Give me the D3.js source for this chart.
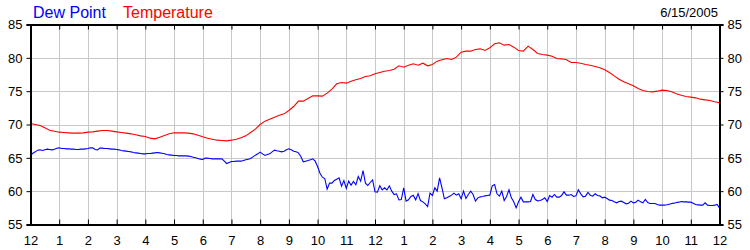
<!DOCTYPE html>
<html lang="en">

<head>
  <meta charset="UTF-8">
  <title>Dew Point / Temperature</title>
  <style>
    * {
      margin: 0;
    }

    body {
      background: #fff;
      font-family: "Liberation Sans", Arial, sans-serif;
    }

    .axis text {
      font-size: 13px;
      fill: #000;
    }
  </style>
</head>

<body>
  <div id="chart"></div>
  <script src="https://cdnjs.cloudflare.com/ajax/libs/d3/7.8.5/d3.min.js"></script>
  <script type="text/javascript">
    // temperature: one reading every 10 minutes, midnight to midnight
    const temperature = [
      70.15, 70.0, 69.85, 69.5, 69.15, 69.0, 68.85, 68.8, 68.75, 68.7,
      68.7, 68.75, 68.85, 68.9, 69.0, 69.1, 69.1, 69.0, 68.9, 68.8,
      68.7, 68.6, 68.45, 68.3, 68.2, 67.95, 67.85, 68.1, 68.35, 68.6,
      68.75, 68.75, 68.75, 68.7, 68.6, 68.4, 68.15, 67.95, 67.8, 67.65,
      67.6, 67.55, 67.65, 67.8, 68.0, 68.3, 68.8, 69.3, 70.0, 70.5,
      70.8, 71.1, 71.4, 71.6, 72.1, 72.7, 73.5, 73.5, 73.9, 74.3,
      74.3, 74.25, 74.7, 75.3, 76.1, 76.3, 76.2, 76.5, 76.7, 76.9,
      77.2, 77.3, 77.6, 77.8, 78.0, 78.1, 78.3, 78.8, 78.6, 78.9,
      79.1, 78.9, 79.2, 78.8, 79.0, 79.5, 79.7, 79.9, 79.75, 80.1,
      80.85, 81.0, 81.0, 81.25, 81.35, 81.1, 81.5, 82.1, 82.25, 81.9,
      82.0, 81.6, 81.1, 81.0, 81.75, 81.25, 80.65, 80.5, 80.4, 80.25,
      79.9, 79.85, 79.7, 79.3, 79.3, 79.2, 79.0, 78.9, 78.7, 78.5,
      78.2, 77.8, 77.3, 76.8, 76.4, 76.1, 75.8, 75.4, 75.1, 74.95,
      74.9, 75.0, 75.15, 75.1, 74.9, 74.6, 74.4, 74.2, 74.1, 74.0,
      73.8, 73.7, 73.6, 73.4, 73.25
    ];

    // dew point: one reading every 5 minutes, midnight to midnight
    const dewPoint = [
      65.35, 65.7, 65.9, 66.15, 66.2, 66.1, 66.2, 66.3, 66.25, 66.2,
      66.3, 66.45, 66.5, 66.4, 66.4, 66.35, 66.35, 66.3, 66.3, 66.25,
      66.25, 66.3, 66.3, 66.35, 66.4, 66.5, 66.5, 66.25, 66.2, 66.45,
      66.45, 66.4, 66.4, 66.35, 66.3, 66.3, 66.25, 66.2, 66.1, 66.05,
      66.0, 65.95, 65.9, 65.8, 65.75, 65.7, 65.65, 65.6, 65.6, 65.65,
      65.65, 65.7, 65.75, 65.8, 65.75, 65.7, 65.6, 65.5, 65.45, 65.4,
      65.35, 65.35, 65.3, 65.3, 65.3, 65.3, 65.25, 65.2, 65.1, 65.0,
      64.9, 64.8, 64.75, 64.95, 64.95, 64.9, 64.85, 64.85, 64.85, 64.85,
      64.85, 64.5, 64.15, 64.3, 64.45, 64.45, 64.5, 64.5, 64.5, 64.6,
      64.7, 64.8, 64.9, 65.15, 65.4, 65.6, 65.85, 65.6, 65.35, 65.5,
      65.6, 65.9, 66.15, 66.05, 66.0, 65.9, 66.0, 66.2, 66.35, 66.2,
      66.0, 65.9, 65.75, 65.2, 64.4, 64.5, 64.6, 64.7, 64.85, 64.5,
      63.7, 62.7, 62.1, 61.9, 60.3, 61.2, 61.2, 61.6, 61.8, 62.0,
      60.75, 61.6, 60.4, 61.5, 60.9, 61.45, 60.95, 62.2, 61.5, 63.1,
      61.2, 60.85, 61.3, 61.7, 59.9, 59.85, 60.8, 60.2, 60.5, 60.2,
      60.8, 60.0, 59.5, 59.6, 58.7, 58.75, 60.5, 58.5, 58.7, 59.2,
      59.4, 58.7, 59.65, 58.6, 58.4, 58.1, 57.7, 59.7, 59.35, 60.5,
      60.0, 62.0, 60.5, 58.85, 59.0, 59.2, 59.4, 59.7, 59.4, 59.6,
      58.85, 60.0, 58.9, 59.5, 60.0, 59.5, 58.5, 59.0, 59.15, 59.2,
      59.3, 59.35, 59.4, 60.8, 61.0, 59.6, 59.25, 60.0, 58.6, 59.2,
      60.2, 59.0, 58.4, 57.5, 58.4, 59.1, 58.4, 58.4, 58.4, 58.45,
      59.5, 58.75, 58.55, 58.6, 58.75, 59.0, 58.45, 59.35, 59.1, 59.5,
      59.1, 59.1, 59.35, 59.9, 59.4, 59.4, 59.5, 59.2, 59.3, 60.2,
      59.6, 59.15, 59.25, 59.8, 59.4, 59.25, 59.6, 59.35, 59.3, 59.0,
      59.1, 58.9, 58.65, 58.6, 58.4, 58.25, 58.45, 58.5, 58.3, 58.1,
      58.2, 58.5, 58.25, 58.35, 58.65, 58.4, 58.25, 58.75, 58.3, 58.15,
      58.15, 58.15, 58.0, 57.9, 57.9, 57.9, 57.95, 58.05, 58.15, 58.2,
      58.3, 58.35, 58.45, 58.4, 58.4, 58.35, 58.35, 58.2, 58.0, 57.95,
      57.9, 57.9, 58.25, 57.9, 57.85, 57.85, 57.9, 58.0, 57.5
    ];

    const hourLabels = ['12', '1', '2', '3', '4', '5', '6', '7', '8', '9', '10', '11',
      '12', '1', '2', '3', '4', '5', '6', '7', '8', '9', '10', '11', '12'];
    const yTicks = [55, 60, 65, 70, 75, 80, 85];
    const dateLabel = '6/15/2005';

    const width = 750, height = 250;
    const plotLeft = 30.5, plotRight = 719.5, plotTop = 24.5, plotBottom = 224.5;

    const svg = d3.select('#chart')
      .append('svg')
      .attr('width', width)
      .attr('height', height);

    const x = d3.scaleLinear().domain([0, 24]).range([plotLeft, plotRight]);
    const y = d3.scaleLinear().domain([55, 85]).range([plotBottom, plotTop]);
    const hours = d3.range(hourLabels.length);

    // grid
    svg.append('g')
      .selectAll('line')
      .data(hours.slice(1, -1))
      .enter().append('line')
      .attr('x1', d => Math.round(x(d)) + 0.5)
      .attr('x2', d => Math.round(x(d)) + 0.5)
      .attr('y1', plotTop)
      .attr('y2', plotBottom)
      .attr('stroke', '#c8c8c8');
    svg.append('g')
      .selectAll('line')
      .data(yTicks.slice(1, -1))
      .enter().append('line')
      .attr('x1', plotLeft)
      .attr('x2', plotRight)
      .attr('y1', d => Math.round(y(d)) + 0.5)
      .attr('y2', d => Math.round(y(d)) + 0.5)
      .attr('stroke', '#c8c8c8');

    // series, spread evenly over the 24 hours
    function drawSeries(values, color) {
      const step = 24 / (values.length - 1);
      const line = d3.line()
        .x((d, i) => x(i * step))
        .y(d => y(d));
      svg.append('path')
        .datum(values)
        .attr('d', line)
        .attr('fill', 'none')
        .attr('stroke', color)
        .attr('stroke-width', 1.1);
    }

    drawSeries(dewPoint, '#0000ff');
    drawSeries(temperature, '#ff0000');

    // axes
    const hourFormat = i => hourLabels[i];

    svg.append('g')
      .attr('class', 'axis')
      .attr('transform', `translate(0,${plotBottom})`)
      .call(d3.axisBottom(x).tickValues(hours).tickFormat(hourFormat).tickSize(-5).tickPadding(10))
      .call(g => g.selectAll('text').attr('dy', '0.8em'));

    svg.append('g')
      .attr('class', 'axis')
      .attr('transform', `translate(0,${plotTop})`)
      .call(d3.axisTop(x).tickValues(hours).tickFormat('').tickSize(-5));

    svg.append('g')
      .attr('class', 'axis')
      .attr('transform', `translate(${plotLeft},0)`)
      .call(d3.axisLeft(y).tickValues(yTicks).tickSize(4).tickPadding(4));

    svg.append('g')
      .attr('class', 'axis')
      .attr('transform', `translate(${plotRight},0)`)
      .call(d3.axisRight(y).tickValues(yTicks).tickSize(4).tickPadding(4));

    svg.selectAll('.axis .domain, .axis line')
      .attr('stroke', '#000');
    svg.selectAll('.axis .domain')
      .attr('stroke-width', 2);

    // legend and date
    svg.append('text')
      .attr('x', 33)
      .attr('y', 17.5)
      .attr('font-size', 16)
      .attr('fill', '#0000ff')
      .text('Dew Point');
    svg.append('text')
      .attr('x', 123)
      .attr('y', 17.5)
      .attr('font-size', 16)
      .attr('fill', '#ff0000')
      .text('Temperature');
    svg.append('text')
      .attr('x', 718)
      .attr('y', 16.7)
      .attr('font-size', 13)
      .attr('text-anchor', 'end')
      .attr('fill', '#000')
      .text(dateLabel);
  </script>
</body>

</html>
